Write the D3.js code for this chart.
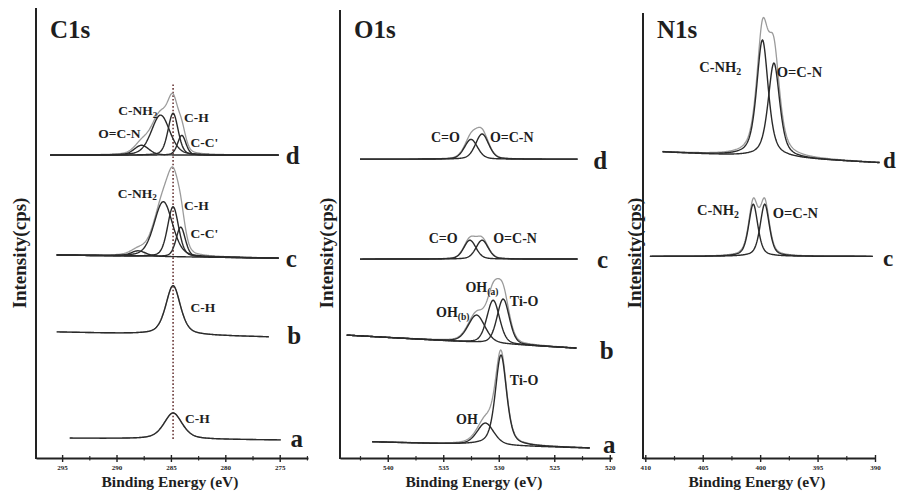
<!DOCTYPE html>
<html>
<head>
<meta charset="utf-8">
<script src="https://cdn.jsdelivr.net/npm/d3@7"></script>
<style>
  body { margin: 0; background: #fff; }
  text { font-family: "Liberation Serif", "Times New Roman", serif; font-weight: bold; fill: #1e1e1e; }
</style>
</head>
<body>
<script>
// ---- data (energies in eV, intensities in arbitrary units) ----
const samples = ["a", "b", "c", "d"]

const c1sTicks = [295, 290, 285, 280, 275]
const o1sTicks = [540, 535, 530, 525, 520]
const n1sTicks = [410, 405, 400, 395, 390]

// measured span and linear background of every spectrum
const c1sBackground = [
    { sample: "a", from: 294.3, to: 274.9, start: 4.4, end: 4.0 },
    { sample: "b", from: 295.5, to: 276.0, start: 28.0, end: 26.9 },
    { sample: "c", from: 295.5, to: 275.1, start: 45.1, end: 44.4 },
    { sample: "d", from: 296.1, to: 275.1, start: 67.3, end: 67.3 }
]
const o1sBackground = [
    { sample: "a", from: 541.4, to: 521.8, start: 3.6, end: 2.2 },
    { sample: "b", from: 543.7, to: 523.0, start: 27.3, end: 24.4 },
    { sample: "c", from: 542.5, to: 522.9, start: 44.2, end: 44.2 },
    { sample: "d", from: 542.5, to: 522.9, start: 66.4, end: 66.4 }
]
const n1sBackground = [
    { sample: "c", from: 409.6, to: 390.2, start: 44.8, end: 44.8 },
    { sample: "d", from: 408.5, to: 389.6, start: 68.0, end: 65.6 }
]

// fitted components: centre, height, FWHM, lorentzian share
const c1sPeaks = [
    { sample: "a", name: "C-H", center: 284.8, height: 5.8, fwhm: 2.0, mix: 0.5 },
    { sample: "b", name: "C-H", center: 284.8, height: 10.9, fwhm: 1.6, mix: 0.5 },
    { sample: "c", name: "O=C-N", center: 288.0, height: 1.2, fwhm: 1.6, mix: 0.3 },
    { sample: "c", name: "C-NH2", center: 285.7, height: 12.2, fwhm: 2.0, mix: 0.3 },
    { sample: "c", name: "C-H", center: 284.8, height: 11.1, fwhm: 1.2, mix: 0.3 },
    { sample: "c", name: "C-C'", center: 284.1, height: 6.6, fwhm: 1.0, mix: 0.3 },
    { sample: "d", name: "O=C-N", center: 287.7, height: 2.2, fwhm: 1.6, mix: 0.3 },
    { sample: "d", name: "C-NH2", center: 285.95, height: 8.9, fwhm: 2.0, mix: 0.3 },
    { sample: "d", name: "C-H", center: 284.8, height: 9.3, fwhm: 1.1, mix: 0.3 },
    { sample: "d", name: "C-C'", center: 284.0, height: 4.4, fwhm: 0.9, mix: 0.3 }
]
const o1sPeaks = [
    { sample: "a", name: "OH", center: 531.2, height: 4.9, fwhm: 1.8, mix: 0.4 },
    { sample: "a", name: "Ti-O", center: 529.8, height: 20.1, fwhm: 1.2, mix: 0.5 },
    { sample: "b", name: "OH(b)", center: 532.0, height: 6.1, fwhm: 1.8, mix: 0.3 },
    { sample: "b", name: "OH(a)", center: 530.5, height: 9.6, fwhm: 1.35, mix: 0.3 },
    { sample: "b", name: "Ti-O", center: 529.6, height: 10.0, fwhm: 1.3, mix: 0.3 },
    { sample: "c", name: "C=O", center: 532.6, height: 4.2, fwhm: 1.3, mix: 0.3 },
    { sample: "c", name: "O=C-N", center: 531.5, height: 4.2, fwhm: 1.3, mix: 0.3 },
    { sample: "d", name: "C=O", center: 532.5, height: 4.4, fwhm: 1.4, mix: 0.3 },
    { sample: "d", name: "O=C-N", center: 531.5, height: 5.6, fwhm: 1.4, mix: 0.3 }
]
const n1sPeaks = [
    { sample: "c", name: "C-NH2", center: 400.6, height: 11.6, fwhm: 0.95, mix: 0.5 },
    { sample: "c", name: "O=C-N", center: 399.6, height: 11.6, fwhm: 0.95, mix: 0.5 },
    { sample: "d", name: "C-NH2", center: 399.8, height: 26.0, fwhm: 1.2, mix: 0.6 },
    { sample: "d", name: "O=C-N", center: 398.8, height: 21.0, fwhm: 1.2, mix: 0.6 }
]

// peak names as printed ("_" starts a subscript), in data coordinates
const c1sNotes = [
    { text: "C-NH_2", e: 286.25, v: 77.3, anchor: "end" },
    { text: "C-H", e: 283.8, v: 75.8, anchor: "start" },
    { text: "O=C-N", e: 287.8, v: 72.2, anchor: "end" },
    { text: "C-C'", e: 283.2, v: 70.2, anchor: "start" },
    { text: "C-NH_2", e: 286.3, v: 58.9, anchor: "end" },
    { text: "C-H", e: 283.8, v: 56.2, anchor: "start" },
    { text: "C-C'", e: 283.2, v: 50.0, anchor: "start" },
    { text: "C-H", e: 283.2, v: 33.6, anchor: "start" },
    { text: "C-H", e: 283.7, v: 8.9, anchor: "start" }
]
const o1sNotes = [
    { text: "C=O", e: 533.5, v: 71.3, anchor: "end" },
    { text: "O=C-N", e: 530.8, v: 71.3, anchor: "start" },
    { text: "C=O", e: 533.7, v: 48.9, anchor: "end" },
    { text: "O=C-N", e: 530.5, v: 48.9, anchor: "start" },
    { text: "OH_(a)", e: 533.0, v: 38.0, anchor: "start" },
    { text: "Ti-O", e: 529.0, v: 34.9, anchor: "start" },
    { text: "OH_(b)", e: 535.65, v: 32.4, anchor: "start" },
    { text: "Ti-O", e: 529.0, v: 17.3, anchor: "start" },
    { text: "OH", e: 533.85, v: 8.7, anchor: "start" }
]
const n1sNotes = [
    { text: "C-NH_2", e: 405.3, v: 87.0, anchor: "start" },
    { text: "O=C-N", e: 398.55, v: 85.8, anchor: "start" },
    { text: "C-NH_2", e: 405.5, v: 55.1, anchor: "start" },
    { text: "O=C-N", e: 398.9, v: 54.4, anchor: "start" }
]

// sample letters next to each trace
const c1sLetters = [
    { text: "d", e: 274.45, v: 67.3 }, { text: "c", e: 274.45, v: 44.4 },
    { text: "b", e: 274.3, v: 27.3 }, { text: "a", e: 274.0, v: 4.4 }
]
const o1sLetters = [
    { text: "d", e: 521.5, v: 66.2 }, { text: "c", e: 521.15, v: 44.2 },
    { text: "b", e: 520.9, v: 24.0 }, { text: "a", e: 520.6, v: 3.1 }
]
const n1sLetters = [
    { text: "d", e: 389.3, v: 66.2 }, { text: "c", e: 389.3, v: 44.4 }
]

const chLine = 284.8   // dotted reference through C-H

// ---- layout ----
const width = 898, height = 496
const bottom = 458
const panels = [
    { title: "C1s", left: 36, right: 308, top: 8, domain: [297.4, 272.4], ticks: c1sTicks,
      background: c1sBackground, peaks: c1sPeaks, notes: c1sNotes, letters: c1sLetters, ylab: 19, noteSize: 13.5 },
    { title: "O1s", left: 340, right: 612, top: 10, domain: [544.3, 519.8], ticks: o1sTicks,
      background: o1sBackground, peaks: o1sPeaks, notes: o1sNotes, letters: o1sLetters, ylab: 326, noteSize: 14 },
    { title: "N1s", left: 643, right: 875, top: 13, domain: [410.2, 390], ticks: n1sTicks,
      background: n1sBackground, peaks: n1sPeaks, notes: n1sNotes, letters: n1sLetters, ylab: 634, noteSize: 14.5 }
]

const svg = d3.select("body").append("svg")
    .attr("width", width)
    .attr("height", height)

const y = d3.scaleLinear().domain([0, 100]).range([bottom, 8])

function voigt(e, p) {
    const t = (e - p.center) / p.fwhm
    const g = Math.exp(-4 * Math.LN2 * t * t)
    const l = 1 / (1 + 4 * t * t)
    return p.height * (p.mix * l + (1 - p.mix) * g)
}

function writeLabel(sel, text) {
    const parts = text.split("_")
    sel.append("tspan").text(parts[0])
    if (parts[1]) {
        sel.append("tspan").attr("dy", "0.3em").attr("font-size", "0.68em").text(parts[1])
    }
}

panels.forEach(panel => {
    const x = d3.scaleLinear().domain(panel.domain).range([panel.left, panel.right])
    const g = svg.append("g")

    // bottom axis with minor ticks
    const step = panel.ticks[0] - panel.ticks[1]
    const lo = Math.min(...panel.domain), hi = Math.max(...panel.domain)
    const minors = d3.range(panel.ticks[panel.ticks.length - 1] - step, panel.ticks[0] + step, step / 2)
        .filter(v => v >= lo - 0.01 && v <= hi + 0.01 && !panel.ticks.includes(v))

    g.append("g")
        .attr("transform", `translate(0,${bottom})`)
        .call(d3.axisBottom(x).tickValues(minors).tickSize(2.5).tickFormat(""))
        .call(a => a.select(".domain").remove())
        .call(a => a.selectAll("line").attr("stroke", "#333").attr("stroke-width", 1.2).attr("y1", -2))

    const axis = g.append("g")
        .attr("transform", `translate(0,${bottom})`)
        .call(d3.axisBottom(x).tickValues(panel.ticks).tickSize(4).tickSizeOuter(0).tickPadding(3))
    axis.select(".domain").attr("stroke", "#222").attr("stroke-width", 2)
    axis.selectAll(".tick line").attr("stroke", "#222").attr("stroke-width", 1.4).attr("y1", -3)
    axis.selectAll(".tick text")
        .attr("font-family", "Liberation Serif, serif")
        .attr("font-weight", "bold")
        .attr("font-size", 7)
        .attr("fill", "#222")

    // left axis line only
    g.append("line")
        .attr("x1", panel.left).attr("x2", panel.left)
        .attr("y1", panel.top).attr("y2", bottom + 1)
        .attr("stroke", "#222").attr("stroke-width", 2)

    // C-H reference line
    if (panel.title === "C1s") {
        g.append("line")
            .attr("x1", x(chLine)).attr("x2", x(chLine))
            .attr("y1", y(83)).attr("y2", y(4))
            .attr("stroke", "#6b3a3a").attr("stroke-width", 1.6)
            .attr("stroke-dasharray", "1.6,2")
    }

    const line = d3.line().x(d => x(d[0])).y(d => y(d[1]))

    panel.background.forEach(bg => {
        const es = d3.range(401).map(i => bg.from + (bg.to - bg.from) * i / 400)
        const base = e => bg.start + (bg.end - bg.start) * (e - bg.from) / (bg.to - bg.from)
        const comps = panel.peaks.filter(p => p.sample === bg.sample)

        // measured envelope (grey)
        g.append("path")
            .attr("d", line(es.map(e => [e, base(e) + d3.sum(comps, p => voigt(e, p))])))
            .attr("fill", "none").attr("stroke", "#9b9b9b").attr("stroke-width", 1.3)

        // fitted components
        comps.forEach(p => {
            g.append("path")
                .attr("d", line(es.map(e => [e, base(e) + voigt(e, p)])))
                .attr("fill", "none").attr("stroke", "#2b2b2b").attr("stroke-width", 1.4)
        })
    })

    panel.notes.forEach(n => {
        const t = g.append("text")
            .attr("x", x(n.e)).attr("y", y(n.v))
            .attr("dy", "0.35em")
            .attr("text-anchor", n.anchor)
            .attr("font-size", panel.noteSize)
        writeLabel(t, n.text)
    })

    panel.letters.forEach(l => {
        g.append("text")
            .attr("x", x(l.e)).attr("y", y(l.v))
            .attr("dy", "0.35em")
            .attr("font-size", panel.title === "N1s" ? 23 : 25)
            .text(l.text)
    })

    g.append("text")
        .attr("x", panel.left + 14).attr("y", 38)
        .attr("font-size", 25)
        .text(panel.title)

    g.append("text")
        .attr("x", (panel.left + panel.right) / 2 - 2).attr("y", 487)
        .attr("text-anchor", "middle")
        .attr("font-size", 15.5)
        .text("Binding Energy (eV)")

    g.append("text")
        .attr("transform", `translate(${panel.ylab},253) rotate(-90)`)
        .attr("dy", "0.35em")
        .attr("text-anchor", "middle")
        .attr("font-size", 19)
        .text("Intensity(cps)")
})
</script>
</body>
</html>
